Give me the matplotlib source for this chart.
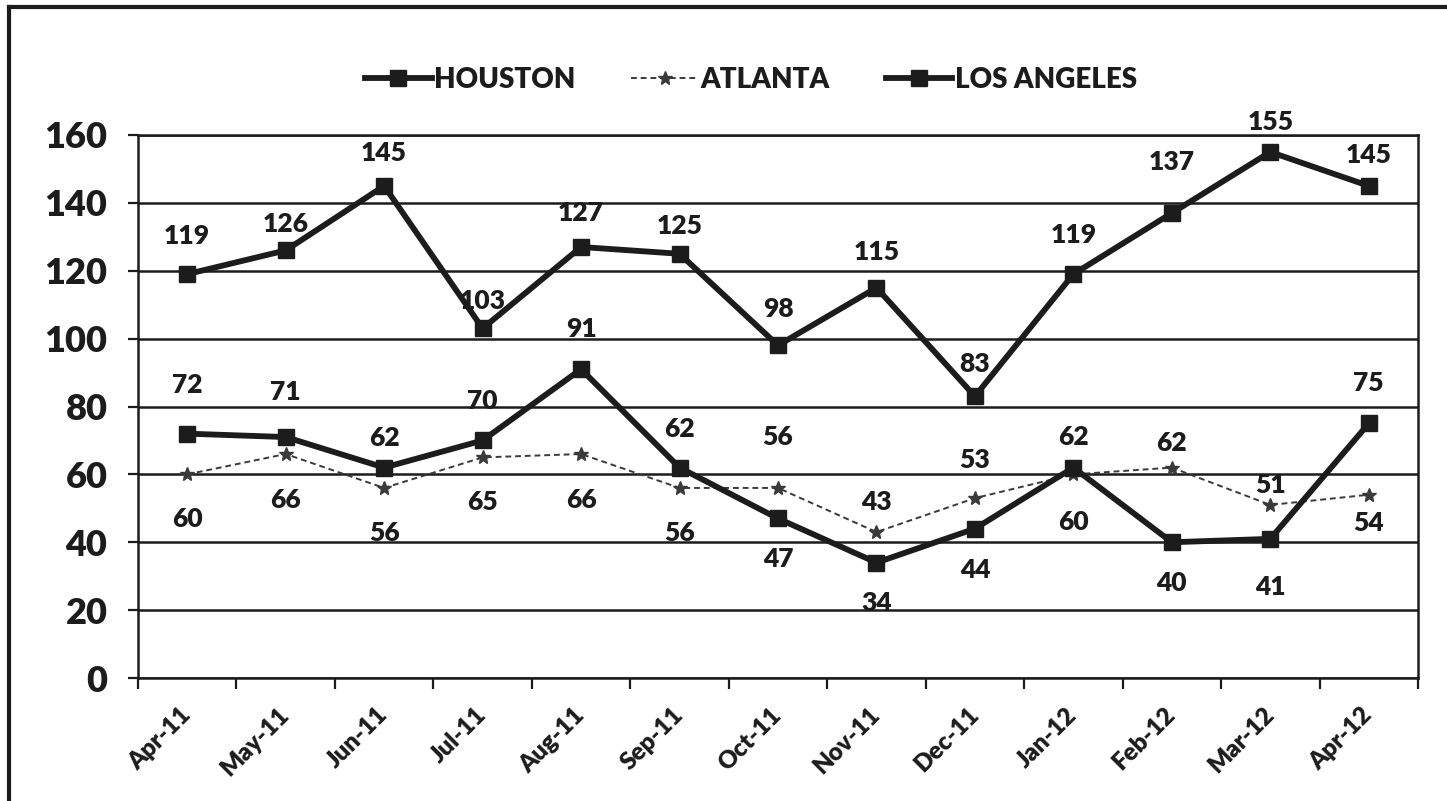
import numpy as np
import matplotlib.pyplot as plt
from matplotlib.lines import Line2D

plt.rcParams['font.family'] = ['Lato', 'DejaVu Sans']

months = ["Apr-11", "May-11", "Jun-11", "Jul-11", "Aug-11", "Sep-11", "Oct-11",
          "Nov-11", "Dec-11", "Jan-12", "Feb-12", "Mar-12", "Apr-12"]
houston = [119, 126, 145, 103, 127, 125, 98, 115, 83, 119, 137, 155, 145]
atlanta = [60, 66, 56, 65, 66, 56, 56, 43, 53, 60, 62, 51, 54]
los_angeles = [72, 71, 62, 70, 91, 62, 47, 34, 44, 62, 40, 41, 75]

# label offsets in pixels (negative = label above the point)
houston_dy = [-38, -26, -33, -27, -34, -28, -36, -36, -32, -39, -51, -30, -31]
atlanta_dy = [45, 46, 45, 45, 46, 45, -51, -30, -38, 48, -25, -20, 28]
la_dy = [-49, -45, -30, -39, -40, -39, 41, 40, 41, -31, 41, 48, -40]

ink = "#1c1c1c"
heavy = "heavy"

fig = plt.figure(figsize=(14.47, 8.01), dpi=100)
ax = fig.add_axes([138 / 1447, 1 - 678 / 801, (1418 - 138) / 1447, (678 - 135) / 801])

x = np.arange(len(months))
ax.plot(x, houston, color=ink, lw=4.2, marker="s", ms=12, label="HOUSTON", zorder=4)
ax.plot(x, atlanta, color="#3a3a3a", lw=1.4, ls=(0, (3, 2)), marker="*", ms=10,
        label="ATLANTA", zorder=3)
ax.plot(x, los_angeles, color=ink, lw=4.2, marker="s", ms=12, label="LOS ANGELES", zorder=4)

for series, offs in [(houston, houston_dy), (atlanta, atlanta_dy), (los_angeles, la_dy)]:
    for i, v in enumerate(series):
        ax.annotate(str(v), (i, v), xytext=(0, -offs[i]), textcoords="offset pixels",
                    ha="center", va="center", fontsize=19, fontweight=heavy,
                    color=ink, zorder=5)

ax.set_xlim(-0.5, len(months) - 0.5)
ax.set_ylim(0, 160)
ax.set_yticks(range(0, 161, 20))
ax.tick_params(axis="y", labelsize=26, width=1.6, length=7, pad=15, colors=ink)
for lab in ax.get_yticklabels():
    lab.set_fontweight(heavy)

ax.set_xticks(x)
ax.set_xticklabels(months, rotation=45, ha="right", va="center",
                   rotation_mode="anchor", fontsize=17.5, fontweight=heavy, color=ink)
ax.tick_params(axis="x", which="major", length=0, pad=24)
ax.set_xticks(np.arange(-0.5, len(months), 1), minor=True)
ax.tick_params(axis="x", which="minor", length=8, width=1.6, color=ink)

ax.yaxis.grid(True, color=ink, lw=1.8)
ax.set_axisbelow(True)
for s in ax.spines.values():
    s.set_color(ink)
    s.set_linewidth(1.8)

fig.legend(loc="center", bbox_to_anchor=(0.519, 0.90), ncol=3, frameon=False,
           prop={"size": 20, "weight": heavy}, handlelength=2.4,
           handletextpad=0.1, columnspacing=2.0, labelcolor=ink)

# scanned page border (left and top)
fig.add_artist(Line2D([9 / 1447, 9 / 1447], [0, 1 - 7 / 801], color=ink, lw=3))
fig.add_artist(Line2D([9 / 1447, 1], [1 - 7 / 801, 1 - 7 / 801], color=ink, lw=3))

fig.savefig("out.png", dpi=100, facecolor="white")
